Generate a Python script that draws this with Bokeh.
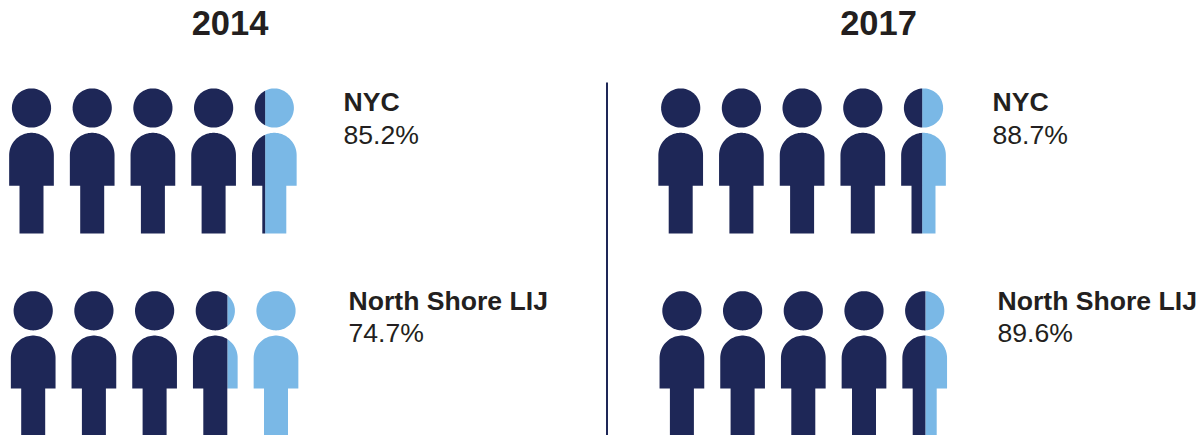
import numpy as np
from bokeh.plotting import figure
from bokeh.embed import file_html
from bokeh.resources import INLINE
from bokeh.core.properties import value

# ---- data ----
years = ["2014", "2017"]
regions = ["NYC", "North Shore LIJ", "NYC", "North Shore LIJ"]
percent = [85.2, 74.7, 88.7, 89.6]
percent_labels = ["85.2%", "74.7%", "88.7%", "89.6%"]

# ---- layout ----
W, H = 1199, 435
DARK, LIGHT, INK = "#1e2757", "#7ab8e6", "#231f20"
first_head_x = [31.0, 32.7, 680.2, 681.4]
head_y = [107.5, 310.3, 107.5, 310.3]
label_x = [343, 348, 992, 997]
label_y = [101.7, 300, 101.7, 300]
title_x = [229.5, 878]
PITCH, R_HEAD = 60.7, 19.6
HALF_BODY, HALF_LEG = 22.35, 12.0
BODY_TOP, TORSO_END, LEG_END = 24.8, 77.8, 125.5   # below head centre
FRACTION_OFFSET = 0.035

p = figure(width=W, height=H, x_range=(0, W), y_range=(H, 0),
           output_backend="svg", toolbar_location=None, min_border=0,
           outline_line_color=None, border_fill_color="white",
           background_fill_color="white")
p.axis.visible = False
p.grid.visible = False
p.styles = {"position": "absolute", "left": "0px", "top": "0px"}


def head(cx, cy):
    t = np.linspace(0, 2 * np.pi, 96, endpoint=False)
    return cx + R_HEAD * np.cos(t), cy + R_HEAD * np.sin(t)


def body(cx, cy):
    t = np.linspace(np.pi, 2 * np.pi, 48)
    dome_y = cy + BODY_TOP + HALF_BODY
    xs = list(cx + HALF_BODY * np.cos(t))
    ys = list(dome_y + HALF_BODY * np.sin(t))
    te, le = cy + TORSO_END, cy + LEG_END
    xs += [cx + HALF_BODY, cx + HALF_LEG, cx + HALF_LEG, cx - HALF_LEG, cx - HALF_LEG, cx - HALF_BODY]
    ys += [te, te, le, le, te, te]
    return np.array(xs), np.array(ys)


def clip(xs, ys, cut, keep_left):
    """Clip a polygon against the vertical line x = cut."""
    out_x, out_y = [], []
    n = len(xs)
    for i in range(n):
        x0, y0, x1, y1 = xs[i], ys[i], xs[(i + 1) % n], ys[(i + 1) % n]
        in0 = (x0 <= cut) if keep_left else (x0 >= cut)
        in1 = (x1 <= cut) if keep_left else (x1 >= cut)
        if in0:
            out_x.append(x0); out_y.append(y0)
        if in0 != in1:
            out_x.append(cut); out_y.append(y0 + (cut - x0) / (x1 - x0) * (y1 - y0))
    return out_x, out_y


dark_x, dark_y, light_x, light_y = [], [], [], []
for k, pct in enumerate(percent):
    filled = pct / 20.0
    for i in range(5):
        cx = first_head_x[k] + i * PITCH
        share = min(max(filled - i, 0.0), 1.0)
        if 0 < share < 1:
            share += FRACTION_OFFSET
        cut = cx - HALF_BODY + share * 2 * HALF_BODY
        for shape in (head, body):
            xs, ys = shape(cx, head_y[k])
            a, b = clip(xs, ys, cut, True)
            if a:
                dark_x.append(a); dark_y.append(b)
            a, b = clip(xs, ys, cut, False)
            if a:
                light_x.append(a); light_y.append(b)

p.patches(light_x, light_y, fill_color=LIGHT, line_color=None)
p.patches(dark_x, dark_y, fill_color=DARK, line_color=None)
p.segment([606.5], [82], [606.5], [H], line_color=DARK, line_width=2)

font = value("Liberation Sans")
p.text(title_x, [22.7, 22.7], text=years, text_font=font, text_font_size="34.5px",
       text_font_style="bold", text_color=INK, text_align="center", text_baseline="middle")
p.text(label_x, label_y, text=regions, text_font=font, text_font_size="26.6px",
       text_font_style="bold", text_color=INK, text_baseline="middle")
p.text(label_x, [y + 32.5 for y in label_y], text=percent_labels, text_font=font, text_font_size="26.6px",
       text_color=INK, text_baseline="middle")

open("out.html", "w").write(file_html(p, INLINE))
